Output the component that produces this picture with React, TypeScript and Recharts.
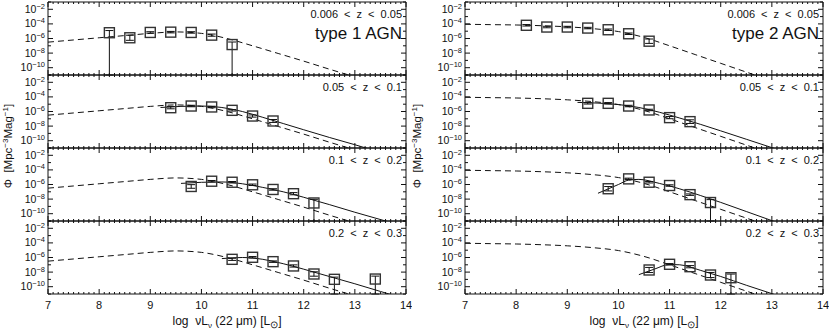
import { ComposedChart, Line, Scatter, XAxis, YAxis, ErrorBar } from 'recharts';

const FONT = '"Liberation Sans", Arial, Helvetica, sans-serif';
const INK = '#111';

// model curves: log10 nuL_nu grid and log10 Phi values
const curveX = [7, 7.5, 8, 8.5, 9, 9.5, 10, 10.5, 11, 11.5, 12, 12.5, 13, 13.5];
const type1Local = [-6.5, -6.2, -5.9, -5.6, -5.3, -5.1, -5.3, -6.0, -7.0, -8.05, -9.1, -10.2, -11.25, -12.3];
const type2Local = [-4.05, -4.1, -4.15, -4.25, -4.4, -4.65, -5.05, -5.85, -7.0, -8.2, -9.4, -10.6, -11.8, -13.0];

// best fits for the higher z bins
const t1FitX2 = [9.2, 9.6, 10.0, 10.4, 10.8, 11.2, 11.6, 12.0, 12.5, 13.0, 13.5];
const t1FitY2 = [-5.45, -5.3, -5.25, -5.45, -6.0, -6.8, -7.65, -8.5, -9.55, -10.55, -11.6];
const t1FitX3 = [9.6, 10.0, 10.4, 10.8, 11.2, 11.6, 12.0, 12.5, 13.0, 13.5, 14.0];
const t1FitY3 = [-5.85, -5.7, -5.65, -5.9, -6.4, -7.0, -7.75, -8.75, -9.8, -10.8, -11.8];
const t1FitX4 = [10.4, 10.8, 11.2, 11.6, 12.0, 12.5, 13.0, 13.5, 14.0];
const t1FitY4 = [-6.15, -6.0, -6.25, -6.85, -7.6, -8.6, -9.6, -10.65, -11.7];

const t2FitX2 = [9.2, 9.6, 10.0, 10.4, 10.8, 11.2, 11.6, 12.0, 12.5, 13.0, 13.5];
const t2FitY2 = [-4.75, -4.85, -5.05, -5.45, -6.1, -6.9, -7.75, -8.65, -9.8, -10.95, -12.1];
const t2FitX3 = [9.6, 9.8, 10.0, 10.2, 10.4, 10.8, 11.2, 11.6, 12.0, 12.5, 13.0, 13.5];
const t2FitY3 = [-7.2, -6.6, -6.0, -5.4, -5.3, -5.85, -6.6, -7.5, -8.45, -9.7, -10.95, -12.2];
const t2FitX4 = [10.4, 10.7, 11.0, 11.2, 11.6, 12.0, 12.5, 13.0, 13.5];
const t2FitY4 = [-8.35, -7.6, -6.95, -7.0, -7.75, -8.6, -9.8, -10.95, -12.1];

// binned LF: centres, log Phi, lower / upper error (lower limits run to the axis)
const t1BinX1 = [8.2, 8.6, 9.0, 9.4, 9.8, 10.2, 10.6];
const t1BinY1 = [-5.21, -5.9, -5.17, -5.13, -5.17, -5.54, -6.83];
const t1Lo1 = [5.79, 0.35, 0.1, 0.1, 0.1, 0.15, 4.17];
const t1Hi1 = [0.3, 0.35, 0.1, 0.1, 0.1, 0.15, 0.35];
const t1BinX2 = [9.4, 9.8, 10.2, 10.6, 11.0, 11.4];
const t1BinY2 = [-5.48, -5.25, -5.38, -5.84, -6.62, -7.3];
const t1Lo2 = [0.15, 0.1, 0.1, 0.1, 0.15, 0.2];
const t1Hi2 = [0.15, 0.1, 0.1, 0.1, 0.15, 0.2];
const t1BinX3 = [9.8, 10.2, 10.6, 11.0, 11.4, 11.8, 12.2];
const t1BinY3 = [-6.27, -5.55, -5.69, -6.04, -6.68, -7.26, -8.53];
const t1Lo3 = [0.25, 0.1, 0.1, 0.1, 0.1, 0.15, 2.47];
const t1Hi3 = [0.25, 0.1, 0.1, 0.1, 0.1, 0.15, 0.5];
const t1BinX4 = [10.6, 11.0, 11.4, 11.8, 12.2, 12.6, 13.4];
const t1BinY4 = [-6.25, -5.97, -6.57, -7.16, -8.26, -8.99, -8.95];
const t1Lo4 = [0.15, 0.1, 0.1, 0.15, 0.3, 2.01, 2.05];
const t1Hi4 = [0.15, 0.1, 0.1, 0.15, 0.3, 0.3, 0.4];

const t2BinX1 = [8.2, 8.6, 9.0, 9.4, 9.8, 10.2, 10.6];
const t2BinY1 = [-4.19, -4.43, -4.43, -4.57, -4.8, -5.35, -6.37];
const t2Lo1 = [0.1, 0.1, 0.1, 0.1, 0.1, 0.1, 0.3];
const t2Hi1 = [0.1, 0.1, 0.1, 0.1, 0.1, 0.1, 0.3];
const t2BinX2 = [9.4, 9.8, 10.2, 10.6, 11.0, 11.4];
const t2BinY2 = [-4.88, -4.88, -5.25, -5.79, -6.84, -7.39];
const t2Lo2 = [0.1, 0.1, 0.1, 0.1, 0.15, 0.25];
const t2Hi2 = [0.1, 0.1, 0.1, 0.1, 0.15, 0.25];
const t2BinX3 = [9.8, 10.2, 10.6, 11.0, 11.4, 11.8];
const t2BinY3 = [-6.58, -5.23, -5.69, -6.14, -7.39, -8.47];
const t2Lo3 = [0.3, 0.1, 0.1, 0.1, 0.1, 2.53];
const t2Hi3 = [0.3, 0.1, 0.1, 0.1, 0.1, 0.4];
const t2BinX4 = [10.6, 11.0, 11.4, 11.8, 12.2];
const t2BinY4 = [-7.71, -6.93, -7.26, -8.4, -8.77];
const t2Lo4 = [0.35, 0.1, 0.15, 0.35, 2.23];
const t2Hi4 = [0.35, 0.1, 0.15, 0.35, 0.5];

const zLabels = ['0.006 < z < 0.05', '0.05 < z < 0.1', '0.1 < z < 0.2', '0.2 < z < 0.3'];
const typeLabels = ['type 1 AGN', 'type 2 AGN'];
const yTicks = [-11, -10, -9, -8, -7, -6, -5, -4, -3, -2, -1];
const xTicks = Array.from({ length: 71 }, (_, i) => Math.round((7 + i * 0.1) * 10) / 10);

const PANEL_H = 73;
const PANEL_TOPS = [2, 75, 148, 221];
const COL_LEFT = [8, 425];
const PLOT_W = 358;
const Y_W = 40;
const R_W = 6;
const EDGE = 1; // top/bottom axis strip, kept non-zero so the axes render

const pts = (xs: number[], ys: number[]) => xs.map((x, i) => ({ x, y: ys[i] }));
const bins = (xs: number[], ys: number[], lo: number[], hi: number[]) =>
  xs.map((x, i) => ({ x, y: ys[i], err: [lo[i], hi[i]] }));

const isMajor = (v: number) => Math.abs(v - Math.round(v)) < 1e-6;

const BottomTick = (p: any, labels: boolean) => {
  const v = p.payload.value;
  const major = isMajor(v);
  return (
    <g>
      <line x1={p.x} x2={p.x} y1={p.y} y2={p.y - (major ? 5 : 2)} stroke={INK} />
      {labels && major && (
        <text x={p.x} y={p.y + 15} textAnchor="middle" fontSize={11} fontFamily={FONT} fill={INK}>
          {v}
        </text>
      )}
    </g>
  );
};

const TopTick = (p: any) => {
  const major = isMajor(p.payload.value);
  return <line x1={p.x} x2={p.x} y1={p.y} y2={p.y + (major ? 5 : 2)} stroke={INK} />;
};

const LeftTick = (p: any) => {
  const v = p.payload.value;
  const major = v % 2 === 0;
  return (
    <g>
      <line x1={p.x} x2={p.x + (major ? 5 : 3)} y1={p.y} y2={p.y} stroke={INK} />
      {major && (
        <text x={p.x - 3} y={p.y + 3.5} textAnchor="end" fontSize={10.5} fontFamily={FONT} fill={INK}>
          <tspan>10</tspan>
          <tspan dy={-4} fontSize={7.5}>{`\u2212${-v}`}</tspan>
        </text>
      )}
    </g>
  );
};

const RightTick = (p: any) => {
  const major = p.payload.value % 2 === 0;
  return <line x1={p.x} x2={p.x - (major ? 5 : 3)} y1={p.y} y2={p.y} stroke={INK} />;
};

const Square = (p: any) => (
  <rect x={p.cx - 5} y={p.cy - 5} width={10} height={10} fill="none" stroke="#333" strokeWidth={1.4} />
);

type PanelProps = {
  left: number;
  top: number;
  last: boolean;
  local: number[];
  fit?: { x: number; y: number }[];
  data: { x: number; y: number; err: number[] }[];
};

function Panel({ left, top, last, local, fit, data }: PanelProps) {
  const bottomH = last ? 26 : EDGE;
  return (
    <div style={{ position: 'absolute', left, top: top - EDGE }}>
      <ComposedChart
        width={Y_W + PLOT_W + R_W}
        height={EDGE + PANEL_H + bottomH}
        margin={{ top: 0, right: 0, bottom: 0, left: 0 }}
      >
        <XAxis
          xAxisId="b"
          type="number"
          dataKey="x"
          domain={[7, 14]}
          ticks={xTicks}
          interval={0}
          allowDataOverflow
          height={bottomH}
          tickSize={0}
          tickMargin={0}
          tickLine={false}
          stroke={INK}
          tick={(p: any) => BottomTick(p, last)}
        />
        <XAxis
          xAxisId="t"
          orientation="top"
          type="number"
          dataKey="x"
          domain={[7, 14]}
          ticks={xTicks}
          interval={0}
          allowDataOverflow
          height={EDGE}
          tickSize={0}
          tickMargin={0}
          tickLine={false}
          stroke={INK}
          tick={TopTick}
        />
        <YAxis
          yAxisId="l"
          type="number"
          dataKey="y"
          domain={[-11, -1]}
          ticks={yTicks}
          interval={0}
          allowDataOverflow
          width={Y_W}
          tickSize={0}
          tickMargin={0}
          tickLine={false}
          stroke={INK}
          tick={LeftTick}
        />
        <YAxis
          yAxisId="r"
          orientation="right"
          type="number"
          dataKey="y"
          domain={[-11, -1]}
          ticks={yTicks}
          interval={0}
          allowDataOverflow
          width={R_W}
          tickSize={0}
          tickMargin={0}
          tickLine={false}
          stroke={INK}
          tick={RightTick}
        />
        <Line
          xAxisId="b"
          yAxisId="l"
          data={pts(curveX, local)}
          dataKey="y"
          type="monotone"
          stroke={INK}
          strokeWidth={1}
          strokeDasharray="6 4"
          dot={false}
          isAnimationActive={false}
        />
        {fit && (
          <Line
            xAxisId="b"
            yAxisId="l"
            data={fit}
            dataKey="y"
            type="monotone"
            stroke={INK}
            strokeWidth={1}
            dot={false}
            isAnimationActive={false}
          />
        )}
        <Scatter xAxisId="b" yAxisId="l" data={data} dataKey="y" shape={Square} isAnimationActive={false}>
          <ErrorBar dataKey="err" direction="y" width={4} stroke={INK} strokeWidth={1} />
        </Scatter>
      </ComposedChart>
    </div>
  );
}

const type1Panels = [
  { fit: undefined, data: bins(t1BinX1, t1BinY1, t1Lo1, t1Hi1) },
  { fit: pts(t1FitX2, t1FitY2), data: bins(t1BinX2, t1BinY2, t1Lo2, t1Hi2) },
  { fit: pts(t1FitX3, t1FitY3), data: bins(t1BinX3, t1BinY3, t1Lo3, t1Hi3) },
  { fit: pts(t1FitX4, t1FitY4), data: bins(t1BinX4, t1BinY4, t1Lo4, t1Hi4) },
];
const type2Panels = [
  { fit: undefined, data: bins(t2BinX1, t2BinY1, t2Lo1, t2Hi1) },
  { fit: pts(t2FitX2, t2FitY2), data: bins(t2BinX2, t2BinY2, t2Lo2, t2Hi2) },
  { fit: pts(t2FitX3, t2FitY3), data: bins(t2BinX3, t2BinY3, t2Lo3, t2Hi3) },
  { fit: pts(t2FitX4, t2FitY4), data: bins(t2BinX4, t2BinY4, t2Lo4, t2Hi4) },
];

export default function App() {
  const columns = [type1Panels, type2Panels];
  const locals = [type1Local, type2Local];
  return (
    <div style={{ position: 'absolute', left: 0, top: 0, width: 830, height: 329, background: '#fff', fontFamily: FONT, overflow: 'hidden' }}>
      {columns.map((panels, c) =>
        panels.map((p, i) => (
          <Panel
            key={`${c}-${i}`}
            left={COL_LEFT[c]}
            top={PANEL_TOPS[i]}
            last={i === panels.length - 1}
            local={locals[c]}
            fit={p.fit}
            data={p.data}
          />
        ))
      )}
      <svg width={830} height={329} style={{ position: 'absolute', left: 0, top: 0, pointerEvents: 'none' }}>
        {COL_LEFT.map((cl, c) => {
          const x0 = cl + Y_W;
          const right = x0 + PLOT_W - 4;
          const mid = x0 + PLOT_W / 2;
          const yl = c === 0 ? 12 : 421;
          return (
            <g key={c} fontFamily={FONT} fill={INK}>
              {zLabels.map((z, i) => (
                <text key={z} x={right} y={PANEL_TOPS[i] + 16} textAnchor="end" fontSize={11} style={{ wordSpacing: 3 }}>
                  {z}
                </text>
              ))}
              <text x={right} y={PANEL_TOPS[0] + 37} textAnchor="end" fontSize={17}>
                {typeLabels[c]}
              </text>
              <text x={mid} y={325} textAnchor="middle" fontSize={12} style={{ whiteSpace: 'pre' }}>
                <tspan>{'log  \u03bdL'}</tspan>
                <tspan dy={3} fontSize={8}>{'\u03bd'}</tspan>
                <tspan dy={-3}>{' (22 \u03bcm) [L'}</tspan>
                <tspan dy={3} fontSize={10}>{'\u2299'}</tspan>
                <tspan dy={-3}>]</tspan>
              </text>
              <text x={yl} y={146} textAnchor="middle" fontSize={11.5} transform={`rotate(-90 ${yl} 146)`} style={{ whiteSpace: 'pre' }}>
                <tspan>{'\u03a6  [Mpc'}</tspan>
                <tspan dy={-4} fontSize={8}>{'\u22123'}</tspan>
                <tspan dy={4}>Mag</tspan>
                <tspan dy={-4} fontSize={8}>{'\u22121'}</tspan>
                <tspan dy={4}>]</tspan>
              </text>
            </g>
          );
        })}
      </svg>
    </div>
  );
}
